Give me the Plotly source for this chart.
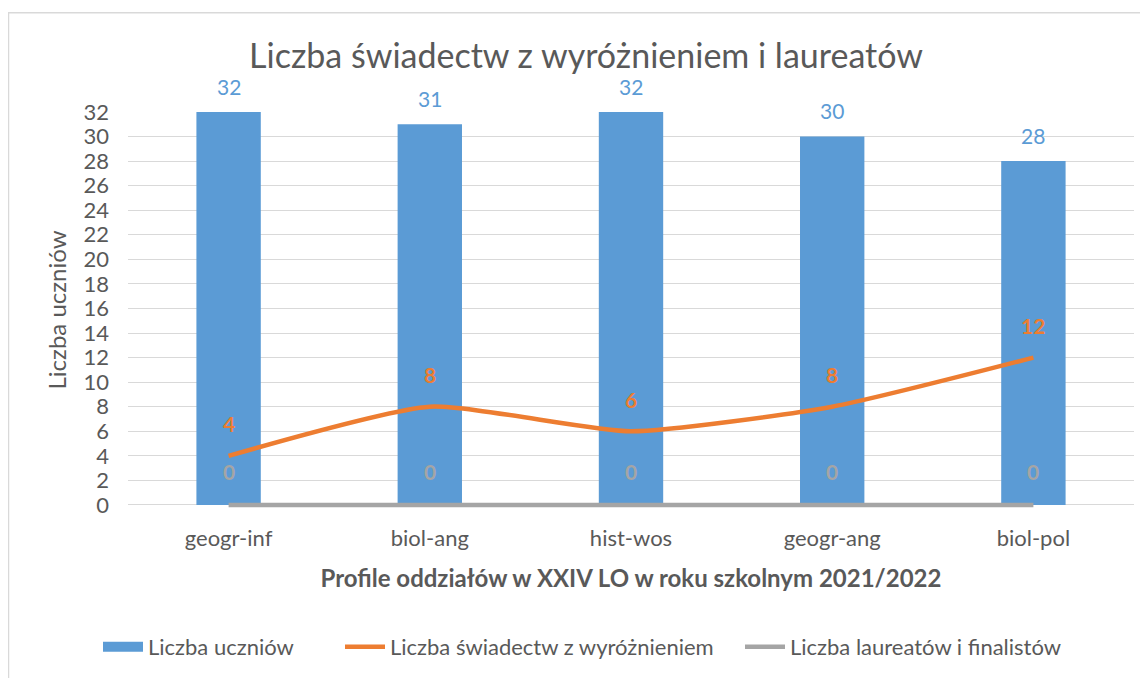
import plotly.graph_objects as go

categories = ["geogr-inf", "biol-ang", "hist-wos", "geogr-ang", "biol-pol"]
uczniowie = [32, 31, 32, 30, 28]
wyroznienia = [4, 8, 6, 8, 12]
laureaci = [0, 0, 0, 0, 0]
y_ticks = list(range(0, 33, 2))

FONT = "Lato"
TXT = "#595959"
BLUE = "#5B9BD5"
ORANGE = "#ED7D31"
GRAY = "#A5A5A5"

W, H = 1140, 670
L, R, T, B = 120, 14, 104, 169
PW, PH = W - L - R, H - T - B


def px_x(p):
    return (p - L) / PW


def px_y(p):
    return (PH - (p - T)) / PH


fig = go.Figure()
fig.add_trace(go.Bar(x=categories, y=uczniowie, name="Liczba uczniów", showlegend=False,
                     legendgroup="u", marker=dict(color=BLUE, line=dict(width=0)), width=0.32))
# legend entry for the bars (wide rectangle swatch like the original)
fig.add_trace(go.Scatter(x=[None], y=[None], name="Liczba uczniów", legendgroup="u", legend="legend",
                         mode="lines", line=dict(color=BLUE, width=14)))
fig.add_trace(go.Scatter(x=categories, y=wyroznienia, name="Liczba świadectw z wyróżnieniem",
                         legend="legend2", mode="lines",
                         line=dict(color=ORANGE, width=4.5, shape="spline", smoothing=0.55)))
fig.add_trace(go.Scatter(x=categories, y=laureaci, name="Liczba laureatów i finalistów",
                         legend="legend3", mode="lines", line=dict(color=GRAY, width=4.5)))

annotations = []
for c, v in zip(categories, uczniowie):
    annotations.append(dict(x=c, y=v, text=str(v), showarrow=False, yshift=26,
                            font=dict(family=FONT, size=21, color=BLUE)))
for c, v in zip(categories, wyroznienia):
    annotations.append(dict(x=c, y=v, text="<b>%d</b>" % v, showarrow=False, yshift=32,
                            font=dict(family=FONT, size=21, color=ORANGE)))
for c, v in zip(categories, laureaci):
    annotations.append(dict(x=c, y=v, text="<b>%d</b>" % v, showarrow=False, yshift=33,
                            font=dict(family=FONT, size=21, color=GRAY)))

leg_common = dict(orientation="h", xanchor="left", yanchor="middle", y=px_y(639),
                  font=dict(size=22, color=TXT), itemwidth=40, bgcolor="rgba(0,0,0,0)")

fig.update_layout(
    width=W, height=H,
    margin=dict(l=L, r=R, t=T, b=B),
    paper_bgcolor="white", plot_bgcolor="white",
    font=dict(family=FONT, color=TXT, size=22),
    title=dict(text="Liczba świadectw z wyróżnieniem i laureatów", x=578 / W, xanchor="center",
               y=1 - 48 / H, yanchor="middle", font=dict(family=FONT, size=34, color=TXT)),
    xaxis=dict(showgrid=False, showline=False, ticks="", tickfont=dict(size=22, color=TXT),
               ticklabelstandoff=15,
               title=dict(text="<b>Profile oddziałów w XXIV LO w roku szkolnym 2021/2022</b>",
                          font=dict(size=24, color=TXT), standoff=20)),
    yaxis=dict(range=[-0.25, 32], tickvals=y_ticks, showgrid=True, gridcolor="#D9D9D9", gridwidth=1.3,
               zeroline=False, showline=False, ticks="", tickfont=dict(size=22, color=TXT),
               ticklabelstandoff=18,
               title=dict(text="Liczba uczniów", font=dict(size=24, color=TXT), standoff=10)),
    legend=dict(leg_common, x=px_x(92 - 2)),
    legend2=dict(leg_common, x=px_x(337 - 5)),
    legend3=dict(leg_common, x=px_x(737 - 5)),
    bargap=0.68,
    annotations=annotations,
    shapes=[dict(type="rect", xref="paper", yref="paper",
                 x0=px_x(0.5), x1=1.2, y0=-0.6, y1=px_y(4.5),
                 line=dict(color="#D9D9D9", width=1.5), layer="below")],
    showlegend=True,
)

fig.write_html("out.html")
